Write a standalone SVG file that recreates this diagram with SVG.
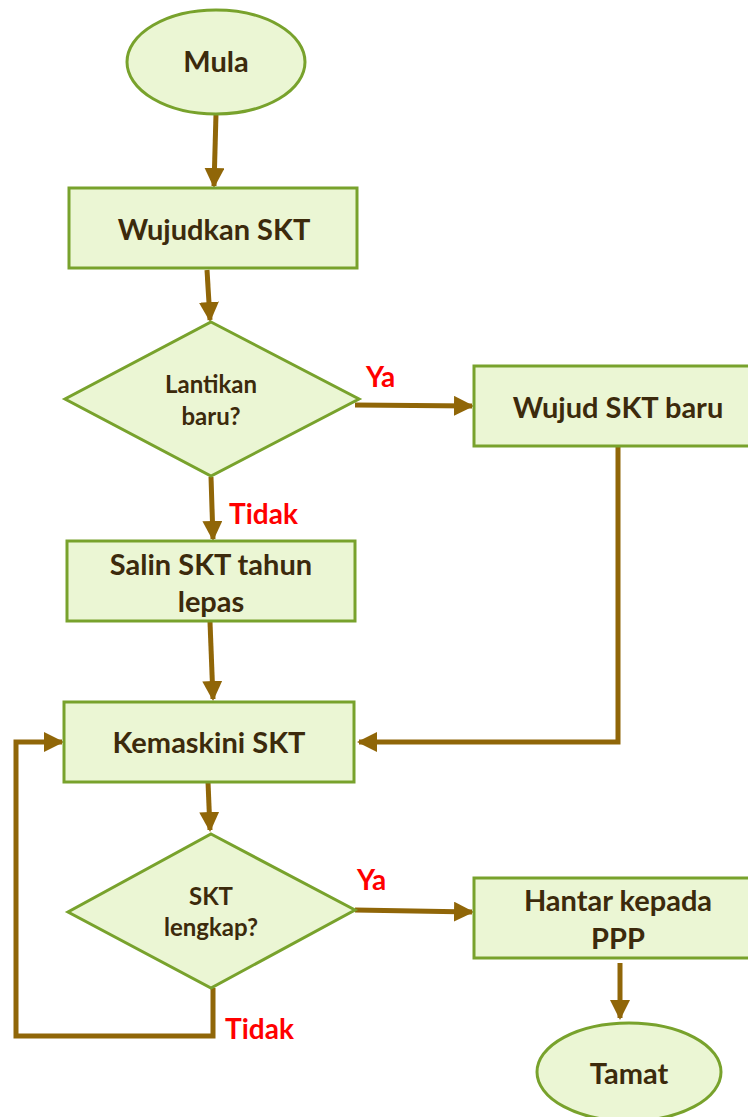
<svg xmlns="http://www.w3.org/2000/svg" width="748" height="1117" viewBox="0 0 748 1117">
<style>
.n{fill:#ebf6d4;stroke:#78a22c;stroke-width:3}
.t{font-family:Lato,"Open Sans",sans-serif;font-weight:bold;fill:#3c2a0c;text-anchor:middle;font-size:29px}
.d{font-size:24px}
.l{font-family:Lato,"Open Sans",sans-serif;font-weight:bold;fill:#ff0000;font-size:28px}
.c{fill:none;stroke:#906608;stroke-width:5}
</style>
<defs>
<marker id="a" viewBox="0 0 10 10" refX="9" refY="5" markerWidth="4" markerHeight="4" orient="auto" markerUnits="strokeWidth">
<path d="M0,0 L10,5 L0,10 Z" fill="#906608"/>
</marker>
</defs>
<g id="connectors">
<path class="c" d="M216,114 L214,186" marker-end="url(#a)"/>
<path class="c" d="M207,270 L210,320" marker-end="url(#a)"/>
<path class="c" d="M355,405 L472,406" marker-end="url(#a)"/>
<path class="c" d="M618,446 L618,742 L359,742" marker-end="url(#a)"/>
<path class="c" d="M211,477 L213,539" marker-end="url(#a)"/>
<path class="c" d="M210,622 L213,699" marker-end="url(#a)"/>
<path class="c" d="M208,782 L210,830" marker-end="url(#a)"/>
<path class="c" d="M213,988 L213,1036 L16,1036 L16,742 L62,742" marker-end="url(#a)"/>
<path class="c" d="M355,910 L472,912" marker-end="url(#a)"/>
<path class="c" d="M620,963 L620,1018" marker-end="url(#a)"/>
</g>
<g id="mula">
<ellipse class="n" cx="216" cy="62" rx="89" ry="52"/>
<text class="t" x="216" y="72">Mula</text>
</g>
<g id="wujudkan">
<rect class="n" x="69" y="188" width="288" height="80"/>
<text class="t" x="214" y="240">Wujudkan SKT</text>
</g>
<g id="lantikan">
<polygon class="n" points="211,322 359,399 211,476 65,399"/>
<text class="t d" x="211" y="393">Lantikan</text>
<text class="t d" x="211" y="425">baru?</text>
</g>
<text class="l" x="366" y="387">Ya</text>
<g id="wujudbaru">
<rect class="n" x="474" y="366" width="280" height="80"/>
<text class="t" x="618" y="418">Wujud SKT baru</text>
</g>
<text class="l" x="229" y="524">Tidak</text>
<g id="salin">
<rect class="n" x="67" y="541" width="288" height="80"/>
<text class="t" x="211" y="575">Salin SKT tahun</text>
<text class="t" x="211" y="612">lepas</text>
</g>
<g id="kemaskini">
<rect class="n" x="64" y="702" width="290" height="80"/>
<text class="t" x="209" y="753">Kemaskini SKT</text>
</g>
<g id="lengkap">
<polygon class="n" points="211,834 355,910 211,988 68,912"/>
<text class="t d" x="211" y="905">SKT</text>
<text class="t d" x="211" y="936">lengkap?</text>
</g>
<text class="l" x="357" y="890">Ya</text>
<g id="hantar">
<rect class="n" x="474" y="878" width="280" height="80"/>
<text class="t" x="618" y="911">Hantar kepada</text>
<text class="t" x="618" y="949">PPP</text>
</g>
<text class="l" x="225" y="1039">Tidak</text>
<g id="tamat">
<ellipse class="n" cx="629" cy="1072" rx="92" ry="49"/>
<text class="t" x="629" y="1084">Tamat</text>
</g>
</svg>
